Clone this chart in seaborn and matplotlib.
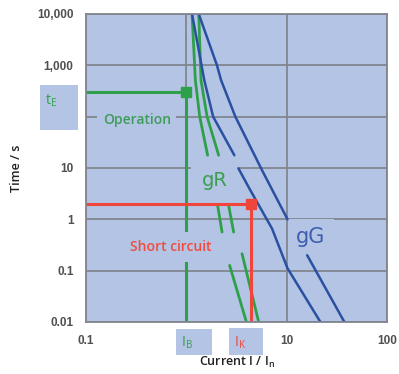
import numpy as np
import pandas as pd
import matplotlib.pyplot as plt
import seaborn as sns
from matplotlib.patches import Rectangle

nan = np.nan

# fuse curves (NaN = line hidden behind a label)
gr_left_current = [1.14, 1.23, 1.36, 1.63, nan, 2.05, 2.27, nan, 2.70, 3.97]
gr_left_time = [10000, 510, 100, 17.7, nan, 1.87, 0.565, nan, 0.127, 0.01]
gr_right_current = [1.33, 1.40, 1.61, 2.10, nan, 2.64, 2.96, nan, 3.59, 5.26]
gr_right_time = [10000, 513, 100, 17.7, nan, 1.87, 0.565, nan, 0.214, 0.01]
gg_left_current = [1.14, 1.51, 1.85, 3.01, nan, 3.30, 4.35, 7.15, 10.2, 21.7]
gg_left_time = [10000, 513, 100, 17.7, nan, 9.87, 3.67, 0.659, 0.111, 0.01]
gg_right_current = [1.33, 2.02, 2.22, 3.08, 5.69, 10.2, nan, 16.0, 37.6]
gg_right_time = [10000, 1000, 513, 100, 9.0, 1.0, nan, 0.2, 0.01]

# operating point (I_B, t_E) and short-circuit point (I_K)
ib_current, te_time = 1.0, 300
ik_current, ik_time = 4.45, 2.0

x_ticks = [0.1, 1, 10, 100]
x_labels = ["0.1", "", "10", "100"]
y_ticks = [0.01, 0.1, 1, 10, 100, 1000, 10000]
y_labels = ["0.01", "0.1", "1", "10", "", "1,000", "10,000"]

bg = "#b4c4e4"
grid_col = "#80858f"
green = "#2fa04a"
blue = "#2a50a2"
red = "#f0453a"


def to_frame(name, xs, ys):
    rows, seg = [], 0
    for x, y in zip(xs, ys):
        if np.isnan(x):
            seg += 1
            continue
        rows.append({"curve": name, "segment": f"{name}{seg}", "current": x, "time": y})
    return rows


gr = pd.DataFrame(to_frame("gR1", gr_left_current, gr_left_time)
                  + to_frame("gR2", gr_right_current, gr_right_time))
gg = pd.DataFrame(to_frame("gG1", gg_left_current, gg_left_time)
                  + to_frame("gG2", gg_right_current, gg_right_time))

sns.set_style("white")
plt.rcParams["font.family"] = ["Open Sans", "DejaVu Sans"]
plt.rcParams["mathtext.default"] = "regular"

fig = plt.figure(figsize=(3.99, 3.74), dpi=100)
ax = fig.add_axes([86 / 399, 1 - 322 / 374, 301 / 399, 308 / 374])
ax.set_facecolor(bg)

sns.lineplot(data=gr, x="current", y="time", units="segment", estimator=None, sort=False,
             color=green, linewidth=2.0, ax=ax, zorder=2)
sns.lineplot(data=gg, x="current", y="time", units="segment", estimator=None, sort=False,
             color=blue, linewidth=1.8, ax=ax, zorder=2)

# operation and short circuit guide lines
ax.plot([0.1, ib_current, ib_current], [te_time, te_time, 0.01], color=green, lw=2.2, zorder=2)
ax.plot([ib_current], [te_time], marker="s", ms=6.5, color=green, zorder=3)
ax.plot([0.1, ik_current, ik_current], [ik_time, ik_time, 0.01], color=red, lw=2.2, zorder=2)
ax.plot([ik_current], [ik_time], marker="s", ms=7, color=red, zorder=3)

ax.set_xscale("log")
ax.set_yscale("log")
ax.set_xlim(0.1, 100)
ax.set_ylim(0.01, 10000)
ax.set_xticks(x_ticks, x_labels)
ax.set_yticks(y_ticks, y_labels)
ax.minorticks_off()
ax.grid(True, color=grid_col, linewidth=1.3)
ax.set_axisbelow(True)
for s in ax.spines.values():
    s.set_color(grid_col)
    s.set_linewidth(1.3)
ax.tick_params(length=4, width=1.3, color=grid_col, pad=5)
for lab in ax.get_xticklabels() + ax.get_yticklabels():
    lab.set_fontfamily(["Liberation Sans", "DejaVu Sans"])
    lab.set_fontweight("bold")
    lab.set_fontsize(8.5)
    lab.set_color("#505050")

ax.set_xlabel(r"Current I / I$_{n}$", fontsize=9, fontweight="semibold", color="#222222", labelpad=6)
ax.set_ylabel("Time / s", fontsize=9, fontweight="semibold", color="#222222", labelpad=10)

# labels inside the plot, with boxes in the plot colour
ax.text(0.169, 0.656, "Operation", transform=ax.transAxes, ha="center", va="center",
        fontsize=10, fontweight="semibold", color="#3e9c5a", zorder=1.5,
        bbox=dict(boxstyle="square,pad=0.4", fc=bg, ec="none"))
ax.text(0.4286, 0.458, "gR", transform=ax.transAxes, ha="center", va="center",
        fontsize=14, family="DejaVu Sans", color="#3b9e4f", zorder=1.5,
        bbox=dict(boxstyle="square,pad=0.55", fc=bg, ec="none"))
ax.text(0.7475, 0.276, "gG", transform=ax.transAxes, ha="center", va="center",
        fontsize=15, family="DejaVu Sans", color="#3d5fae", zorder=1.5,
        bbox=dict(boxstyle="square,pad=0.4", fc=bg, ec="none"))
ax.text(0.282, 0.2435, "Short circuit", transform=ax.transAxes, ha="center", va="center",
        fontsize=10, fontweight="semibold", color="#f04b3e", zorder=4,
        bbox=dict(boxstyle="square,pad=0.55", fc=bg, ec="none"))

# marker boxes outside the axes: t_E, I_B, I_K
for x0, y0, w, h in [(40, 85, 38, 45), (176, 329, 36, 26), (229, 328, 34, 27)]:
    fig.add_artist(Rectangle((x0 / 399, 1 - (y0 + h) / 374), w / 399, h / 374,
                             transform=fig.transFigure, fc=bg, ec="none"))
fig.text(51 / 399, 1 - 101 / 374, r"t$_{E}$", ha="center", va="center", fontsize=10, color=green)
fig.text(187 / 399, 1 - 343 / 374, r"I$_{B}$", ha="center", va="center", fontsize=10, color=green)
fig.text(240 / 399, 1 - 343 / 374, r"I$_{K}$", ha="center", va="center", fontsize=10, color=red)

fig.savefig("out.png", dpi=100)
